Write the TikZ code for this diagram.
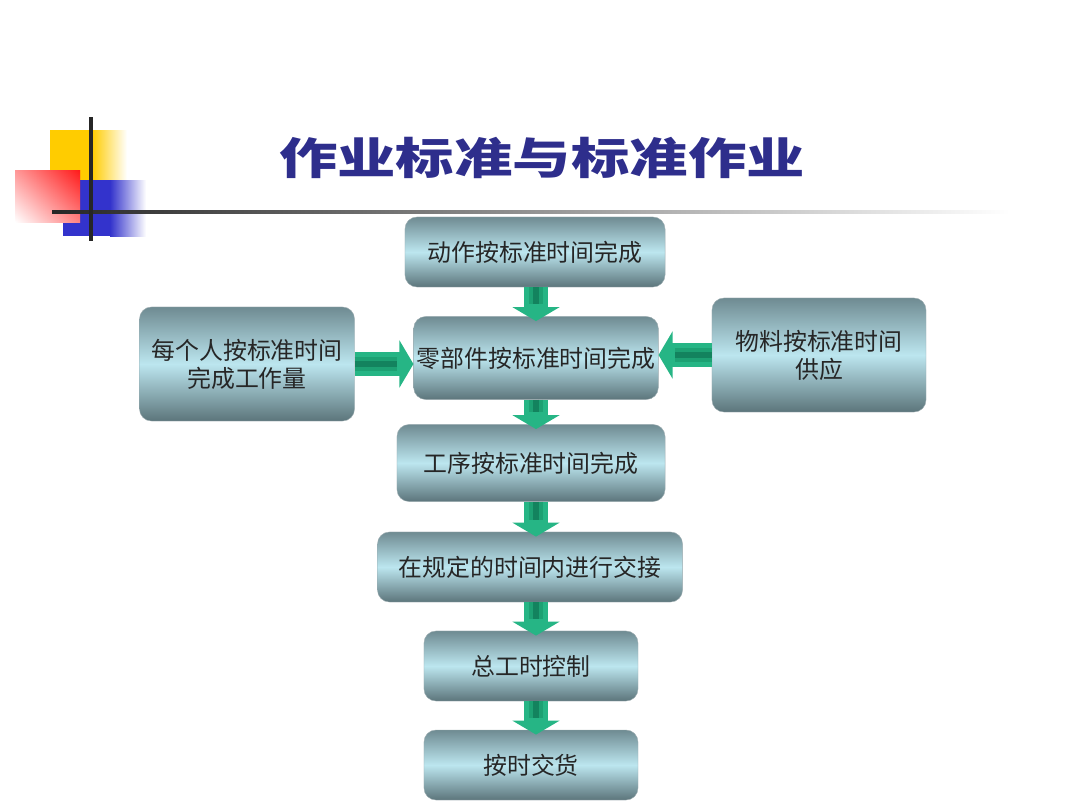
\documentclass[tikz,border=0pt]{standalone}
\usepackage{fontspec}
\setmainfont{Noto Sans CJK SC}
\usetikzlibrary{positioning, arrows.meta, calc}
\definecolor{titleBlue}{HTML}{2E2E8C}
\definecolor{boxTop}{HTML}{6F8B92}
\definecolor{boxMid}{HTML}{BCE6EF}
\definecolor{boxBot}{HTML}{5C757B}
\definecolor{arrowGreen}{HTML}{26B585}
\definecolor{arrowMid}{HTML}{179468}
\definecolor{arrowDark}{HTML}{0D7050}
\definecolor{decoYellow}{HTML}{FFCC00}
\definecolor{decoBlue}{HTML}{3333CC}
\definecolor{decoRed}{HTML}{FF1A1A}
\tikzset{
  % Flow steps
  flowbox/.style={
    rounded corners=0.3cm, draw=boxBot!60, line width=0.3pt,
    top color=boxTop, bottom color=boxBot, middle color=boxMid,
    align=center, text=black!85, inner sep=2pt,
    font=\fontsize{17}{20}\selectfont,
    minimum height=1.75cm
  },
  % Side inputs
  sidebox/.style={
    flowbox, minimum width=5.35cm, minimum height=2.85cm
  },
  % Green block arrows
  blockarrow/.style={
    line width=0.6cm, draw=arrowGreen,
    -{Triangle[width=1.17cm, length=0.35cm]}
  },
  blockmid/.style={
    line width=0.36cm, draw=arrowMid, opacity=0.6
  },
  blockcore/.style={
    line width=0.16cm, draw=arrowDark, opacity=0.6
  },
}

\begin{document}
\begin{tikzpicture}[x=0.025cm, y=-0.025cm]
  \useasboundingbox (0,0) rectangle (1080,810);

  %% ── Corner decoration ──
  \fill[decoYellow] (50,130) rectangle (92,180);
  \shade[left color=decoYellow, right color=white] (92,130) rectangle (127,180);
  \fill[decoBlue] (63,180) rectangle (110,236);
  \shade[left color=decoBlue, right color=white] (110,180) rectangle (146,236);
  \shade[left color=white, right color=decoRed] (15,170) rectangle (80,222);
  \shade[top color=decoRed, bottom color=white, opacity=0.45] (15,170) rectangle (80,222);
  \shade[left color=black!85, right color=white] (52,210.5) rectangle (1010,213.5);
  \draw[line width=2.2pt, black!85] (91,117) -- (91,241);

  %% ── Title ──
  \node[text=titleBlue, font=\bfseries\fontsize{31}{31}\selectfont] (title) at (542,158)
    {\scalebox{1.34}[1]{作业标准与标准作业}};

  %% ── Flow steps ──
  \node[flowbox, minimum width=6.5cm]                       (actionStd)   at (535,252) {动作按标准时间完成};
  \node[flowbox, minimum width=6.05cm, minimum height=2.075cm] (partStd)  at (536,358) {零部件按标准时间完成};
  \node[flowbox, minimum width=6.7cm, minimum height=1.925cm]  (processStd) at (531,463) {工序按标准时间完成};
  \node[flowbox, minimum width=7.625cm]                     (handover)    at (530,567) {在规定的时间内进行交接};
  \node[flowbox, minimum width=5.35cm]                      (totalTime)   at (531,666) {总工时控制};
  \node[flowbox, minimum width=5.35cm]                      (delivery)    at (531,765) {按时交货};

  %% ── Side inputs ──
  \node[sidebox, minimum width=5.375cm] (personStd)   at (247,364) {每个人按标准时间\\完成工作量};
  \node[sidebox]                        (materialStd) at (819,355) {物料按标准时间\\供应};

  %% ── Arrows ──
  \coordinate (axis) at (536,0);
  \foreach \from/\to in {actionStd/partStd, partStd/processStd, processStd/handover,
                         handover/totalTime, totalTime/delivery}{
    \draw[blockarrow, shorten >=-0.12cm] (\from.south -| axis) -- (\to.north -| axis);
    \draw[blockmid, shorten >=0.3cm] (\from.south -| axis) -- (\to.north -| axis);
    \draw[blockcore, shorten >=0.3cm] (\from.south -| axis) -- (\to.north -| axis);
  }
  \draw[blockarrow] (personStd.east) -- (personStd.east -| partStd.west);
  \draw[blockmid, shorten >=0.4cm] (personStd.east) -- (personStd.east -| partStd.west);
  \draw[blockcore, shorten >=0.4cm] (personStd.east) -- (personStd.east -| partStd.west);
  \draw[blockarrow] (materialStd.west) -- (materialStd.west -| partStd.east);
  \draw[blockmid, shorten >=0.4cm] (materialStd.west) -- (materialStd.west -| partStd.east);
  \draw[blockcore, shorten >=0.4cm] (materialStd.west) -- (materialStd.west -| partStd.east);

\end{tikzpicture}
\end{document}
